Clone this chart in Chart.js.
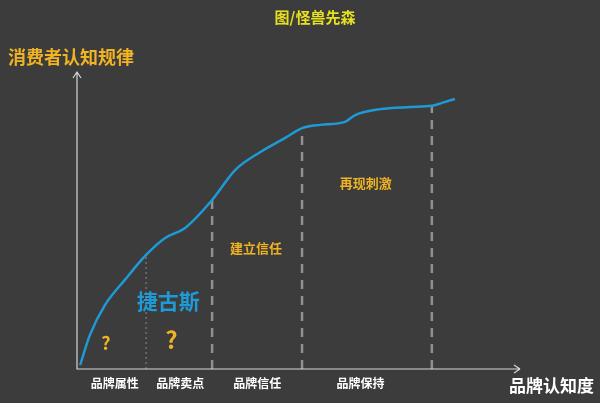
<!DOCTYPE html>
<html><head><meta charset="utf-8">
<script src="https://cdn.jsdelivr.net/npm/chart.js@4/dist/chart.umd.min.js"></script>
<style>html,body{margin:0;background:#3c3c3c}#c{display:block}</style>
</head><body>
<div style="width:600px;height:403px"><canvas id="c"></canvas></div>
<script>
// awareness (x) vs cognition (y), 0..100
const curveX = [0.7, 2.9, 6.3, 10.8, 15.6, 19.9, 24.4, 30.5, 35.7, 41.3, 47, 50.8, 54.9, 60.5, 62.8, 68.4, 75.2, 80.1, 82.4, 85.3]
const curveY = [1.3, 11.4, 21.5, 30, 38.4, 44.1, 47.5, 56.9, 67, 73, 77.8, 81.1, 82.2, 83.2, 85.5, 87.5, 88.2, 88.6, 89.6, 90.9]
const stageX = [15.6, 30.5, 50.8, 80.1]
const stageTop = [38.4, 56.9, 80.5, 88.6]
const stageLabels = ['品牌属性', '品牌卖点', '品牌信任', '品牌保持']
const stageLabelX = [8.5, 23.3, 40.7, 64]

const font = '"Noto Sans CJK SC", sans-serif'

let datasets = [{
	data: curveX.map((x, i) => ({x: x, y: curveY[i]})),
	borderColor: '#1e9ad6', borderWidth: 2.5, pointRadius: 0,
	cubicInterpolationMode: 'monotone'
}]
stageX.forEach((x, i) => {
	datasets.push({
		data: [{x: x, y: 0}, {x: x, y: stageTop[i]}],
		borderColor: i == 0 ? '#8a8a8a' : '#909090',
		borderWidth: i == 0 ? 1 : 2.5,
		borderDash: i == 0 ? [2, 3] : [9, 7],
		pointRadius: 0
	})
})

const decor = {
	id: 'decor',
	afterDraw(chart) {
		let ctx = chart.ctx
		let sx = chart.scales.x, sy = chart.scales.y
		let x0 = sx.getPixelForValue(0), y0 = sy.getPixelForValue(0)
		let x1 = sx.getPixelForValue(100), y1 = sy.getPixelForValue(100)
		ctx.save()
		ctx.strokeStyle = '#d8d8d8'
		ctx.lineWidth = 1.2
		ctx.beginPath()
		ctx.moveTo(x0, y1); ctx.lineTo(x0, y0); ctx.lineTo(x1, y0)
		ctx.moveTo(x0 - 4, y1 + 6); ctx.lineTo(x0, y1); ctx.lineTo(x0 + 4, y1 + 6)
		ctx.moveTo(x1 - 6, y0 - 4); ctx.lineTo(x1, y0)
		ctx.moveTo(x1 - 6, y0 + 4); ctx.lineTo(x1, y0)
		ctx.stroke()

		let text = (t, x, y, size, color, bold, align) => {
			ctx.font = (bold ? 'bold ' : '') + size + 'px ' + font
			ctx.fillStyle = color
			ctx.textAlign = align || 'center'
			ctx.textBaseline = 'middle'
			ctx.fillText(t, x, y)
		}
		text('图/怪兽先森', 315, 17, 15, '#e6e01e', true)
		text('消费者认知规律', 8, 57, 18, '#f0b323', true, 'left')
		text('品牌认知度', 594, 386, 17, '#ffffff', true, 'right')
		stageLabels.forEach((t, i) => {
			text(t, sx.getPixelForValue(stageLabelX[i]), 383, 12, '#ffffff', true)
		})
		text('捷古斯', sx.getPixelForValue(20.6), sy.getPixelForValue(22.9), 21, '#1e9ad6', true)
		text('?', sx.getPixelForValue(6.5), sy.getPixelForValue(8.8), 18, '#f0b323', true)
		text('?', sx.getPixelForValue(21.3), sy.getPixelForValue(9.8), 24, '#f0b323', true)
		text('建立信任', sx.getPixelForValue(40.4), sy.getPixelForValue(40.7), 13, '#f0b323', true)
		text('再现刺激', sx.getPixelForValue(65.2), sy.getPixelForValue(62.6), 13, '#f0b323', true)
		ctx.restore()
	}
}

new Chart(document.getElementById('c'), {
	type: 'line',
	data: {datasets: datasets},
	options: {
		responsive: true, maintainAspectRatio: false, animation: false,
		layout: {padding: {left: 77, right: 80, top: 72, bottom: 34}},
		scales: {
			x: {type: 'linear', min: 0, max: 100, display: false},
			y: {min: 0, max: 100, display: false}
		},
		plugins: {legend: {display: false}, tooltip: {enabled: false}}
	},
	plugins: [decor]
})
</script>
</body></html>
